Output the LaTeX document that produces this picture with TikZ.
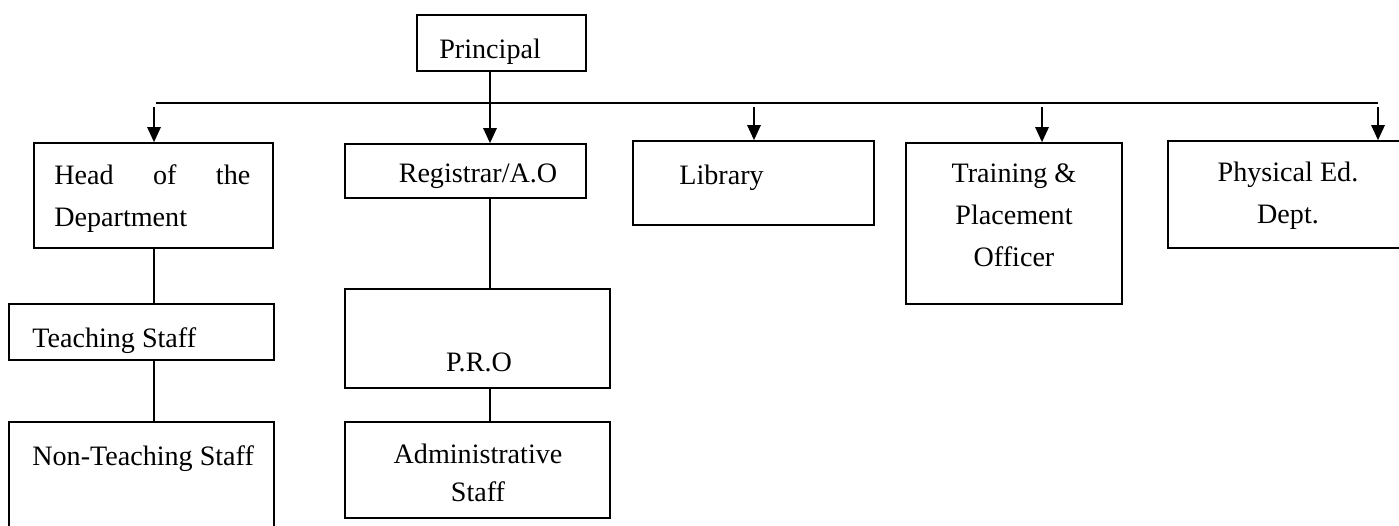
\documentclass[tikz,border=0pt]{standalone}
\usepackage{fontspec}
\setmainfont{Liberation Serif}
\usetikzlibrary{arrows.meta}
\tikzset{
  unit/.style={draw, line width=1pt, inner sep=0pt},
  txt/.style={inner sep=0pt, font=\fontsize{16}{24}\selectfont},
  arr/.style={line width=0.8pt, -{Triangle[length=0.3cm, width=0.27cm]}}
}
\begin{document}
\begin{tikzpicture}[x=0.02cm, y=-0.02cm]
      \useasboundingbox (0,0) rectangle (1399,526);
      \clip (0,0) rectangle (1399,526);
      % boxes
      \node[unit, minimum width=3.38cm, minimum height=1.12cm] (prin) at (501.5,43) {};
      \node[unit, minimum width=4.78cm, minimum height=2.10cm] (hod) at (153.5,195.5) {};
      \node[unit, minimum width=4.82cm, minimum height=1.08cm] (reg) at (465.5,171) {};
      \node[unit, minimum width=4.82cm, minimum height=1.68cm] (lib) at (753.5,183) {};
      \node[unit, minimum width=4.32cm, minimum height=3.22cm] (tpo) at (1014,223.5) {};
      \node[unit, minimum width=4.84cm, minimum height=2.14cm] (ped) at (1289,194.5) {};
      \node[unit, minimum width=5.30cm, minimum height=1.12cm] (tch) at (141.5,332) {};
      \node[unit, minimum width=5.30cm, minimum height=2.36cm] (ntch) at (141.5,481) {};
      \node[unit, minimum width=5.30cm, minimum height=1.98cm] (pro) at (477.5,338.5) {};
      \node[unit, minimum width=5.30cm, minimum height=1.92cm] (adm) at (477.5,470) {};
      % labels
      \node[txt, anchor=base west] (prinT) at (439,59) {Principal};
      \node[txt, anchor=west, align=left] (hodT) at (54,198.5)
        {\makebox[3.92cm][s]{Head of the}\\Department};
      \node[txt, anchor=base] (regT) at (478,183) {Registrar/A.O};
      \node[txt, anchor=base west] (libT) at (679,185) {Library};
      \node[txt, align=center] (tpoT) at (1014,215.5) {Training \&\\Placement\\Officer};
      \node[txt, align=center] (pedT) at (1288,196) {Physical Ed.\\Dept.};
      \node[txt, anchor=base west] (tchT) at (32,348) {Teaching Staff};
      \node[txt, anchor=base west] (ntchT) at (32,465) {Non-Teaching Staff};
      \node[txt, anchor=base] (proT) at (479,372) {P.R.O};
      \node[txt, align=center] (admT) at (478,473) {Administrative\\[-2pt]Staff};
      % bus and arrows
      \coordinate (bL) at (156,103);
      \coordinate (bR) at (1378,103);
      \coordinate (jR) at (490,103);
      \coordinate (aH) at (154,107);
      \coordinate (aL) at (754,107);
      \coordinate (aT) at (1042,107);
      \coordinate (aP) at (1378,107);
      \begin{scope}[line width=0.8pt]
        \draw (prin.south -| jR) -- (jR);
        \draw (bL) -- (bR);
        \draw[arr] (aH) -- (aH |- hod.north);
        \draw[arr] (jR) -- (jR |- reg.north);
        \draw[arr] (aL) -- (aL |- lib.north);
        \draw[arr] (aT) -- (aT |- tpo.north);
        \draw[arr] (aP) -- (aP |- ped.north);
        \draw (aH |- hod.south) -- (aH |- tch.north);
        \draw (aH |- tch.south) -- (aH |- ntch.north);
        \draw (jR |- reg.south) -- (jR |- pro.north);
        \draw (jR |- pro.south) -- (jR |- adm.north);
      \end{scope}
\end{tikzpicture}
\end{document}
